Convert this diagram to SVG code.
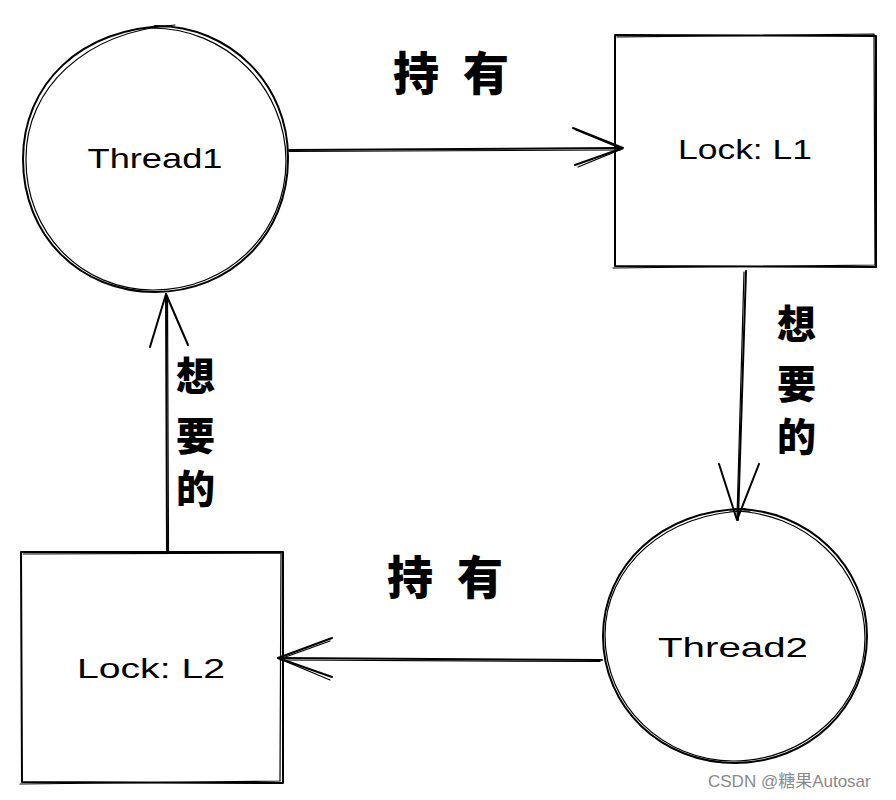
<svg xmlns="http://www.w3.org/2000/svg" width="896" height="800" viewBox="0 0 896 800">
<style>
.sh{fill:none;stroke:#000;stroke-width:2;stroke-linecap:round;stroke-linejoin:round}
.sh2{fill:none;stroke:#000;stroke-width:1.2;stroke-linecap:round}
.lbl{font-family:"Liberation Sans","DejaVu Sans",sans-serif;font-size:28px;fill:#000}
.cjk{font-family:"Noto Sans CJK SC","Noto Sans CJK JP",sans-serif;font-weight:900;font-size:46px;fill:#000}
.cjv{font-family:"Noto Sans CJK SC","Noto Sans CJK JP",sans-serif;font-weight:900;font-size:39px;fill:#000}
.wm{font-family:"Liberation Sans","Noto Sans CJK SC",sans-serif;font-size:17px;fill:#8a8a8a}
</style>
<rect width="896" height="800" fill="#fff"/>
<g id="connectors">
  <g id="t1-l1">
    <path class="sh" d="M289 150 L622 148"/>
    <path class="sh2" d="M289 151.5 L620 150"/>
    <path class="sh" d="M573 128 L623 148 L575 165"/>
    <path class="sh2" d="M576 130 L622 149 L578 167"/>
  </g>
  <g id="l1-t2">
    <path class="sh" d="M746 271 L738 520"/>
    <path class="sh2" d="M744 272 L737 518"/>
    <path class="sh" d="M719 464 L737 520 L759 464"/>
  </g>
  <g id="t2-l2">
    <path class="sh" d="M602 660 L278 658"/>
    <path class="sh2" d="M600 661.5 L280 660"/>
    <path class="sh" d="M332 638 L278 658 L332 677"/>
    <path class="sh2" d="M330 641 L280 659 L330 680"/>
  </g>
  <g id="l2-t1">
    <path class="sh" d="M167 552 L166 294"/>
    <path class="sh2" d="M168.5 552 L167.5 296"/>
    <path class="sh" d="M150 347 L166 294 L188 345"/>
  </g>
</g>
<g id="thread1">
  <path class="sh" d="M155 26 C230 25 289 85 288 159 C288 235 230 292 155 292 C80 292 23 236 23 159 C23 85 80 27 170 26"/>
  <path class="sh2" d="M150 28 C226 27 286 88 286 161 C286 233 228 290 153 290 C82 290 25 233 26 158 C26 88 85 32 175 25"/>
  <text class="lbl" x="155" y="168" text-anchor="middle" textLength="135" lengthAdjust="spacingAndGlyphs">Thread1</text>
</g>
<g id="lock-l1">
  <path class="sh" d="M615 35 L876 36 L876 267 L615 266 Z"/>
  <path class="sh2" d="M617 37 L874 34 L875 265 L613 268"/>
  <text class="lbl" x="745" y="159" text-anchor="middle" textLength="134" lengthAdjust="spacingAndGlyphs">Lock: L1</text>
</g>
<g id="thread2">
  <path class="sh" d="M735 509 C808 509 867 566 867 636 C867 708 808 763 735 763 C662 763 603 708 603 636 C603 566 662 509 745 509"/>
  <path class="sh2" d="M730 511 C805 511 865 568 865 638 C865 706 806 761 733 761 C664 761 605 706 605 635 C605 568 664 511 750 511"/>
  <text class="lbl" x="733" y="657" text-anchor="middle" textLength="150" lengthAdjust="spacingAndGlyphs">Thread2</text>
</g>
<g id="lock-l2">
  <path class="sh" d="M21 552 L283 552 L283 783 L22 782 Z"/>
  <path class="sh2" d="M23 554 L281 553 L280 781 L20 784"/>
  <text class="lbl" x="151" y="678" text-anchor="middle" textLength="148" lengthAdjust="spacingAndGlyphs">Lock: L2</text>
</g>
<g id="labels">
  <text class="cjk" x="393" y="90">持</text>
  <text class="cjk" x="463" y="90">有</text>
  <text class="cjk" x="387" y="594">持</text>
  <text class="cjk" x="457" y="594">有</text>
  <text class="cjv" x="777" y="338">想</text>
  <text class="cjv" x="777" y="398">要</text>
  <text class="cjv" x="777" y="451">的</text>
  <text class="cjv" x="176" y="390">想</text>
  <text class="cjv" x="176" y="450">要</text>
  <text class="cjv" x="176" y="503">的</text>
</g>
<text class="wm" x="708" y="787">CSDN @糖果Autosar</text>
</svg>
